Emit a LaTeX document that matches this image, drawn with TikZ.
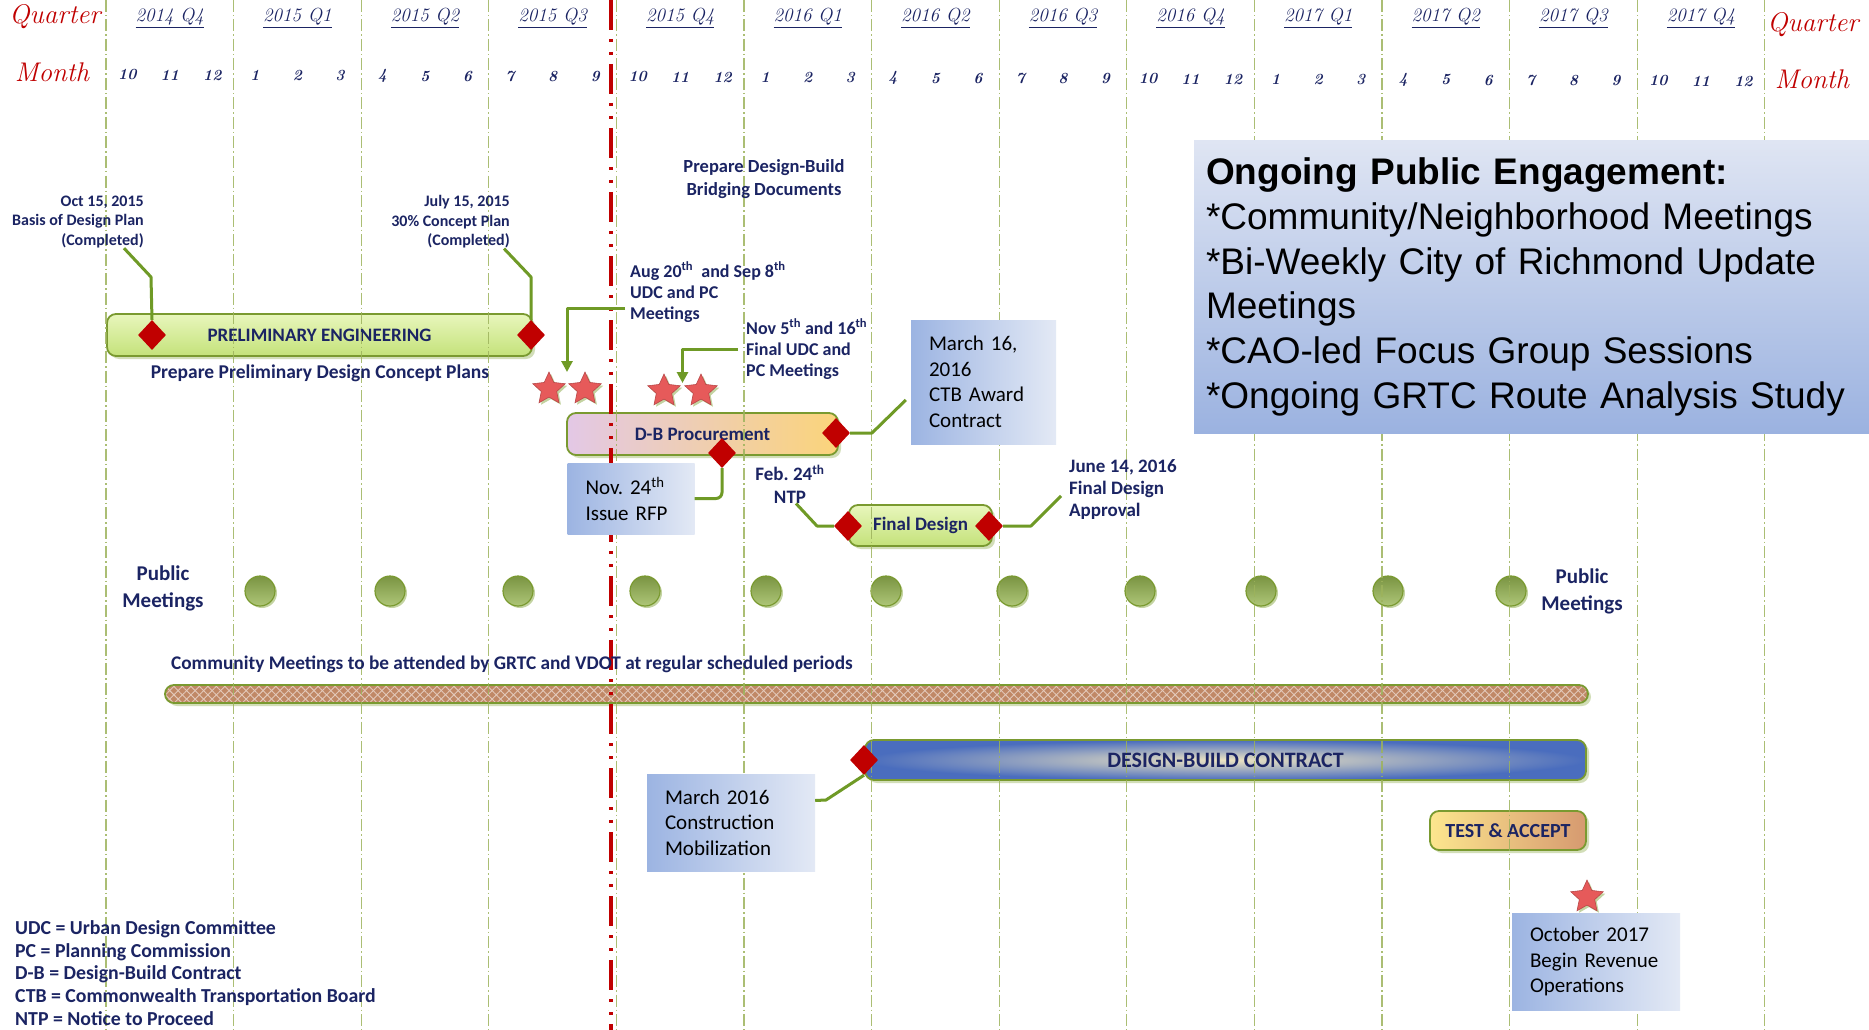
\documentclass[tikz,border=0pt]{standalone}
\usepackage{fontspec}
\newfontfamily\calfont{Carlito}
\newfontfamily\arialfont{Liberation Sans}
\usetikzlibrary{shapes.geometric,arrows.meta,shadows,patterns,patterns.meta,calc}
\definecolor{navy}{HTML}{1B2463}
\definecolor{dred}{HTML}{C00000}
\definecolor{gridgreen}{HTML}{9DB35C}
\definecolor{bargreen}{HTML}{7A9A30}
\definecolor{callgreen}{HTML}{6F9A26}
\definecolor{shadowgreen}{HTML}{B5C98A}
\definecolor{pelight}{HTML}{E8F6BC}
\definecolor{pegreen}{HTML}{C4E27A}
\definecolor{dbpink}{HTML}{E3C8E6}
\definecolor{dbyellow}{HTML}{FBD47A}
\definecolor{dbblue}{HTML}{4A6DBE}
\definecolor{dbinner}{HTML}{EDE4C2}
\definecolor{testy}{HTML}{FCE68E}
\definecolor{testo}{HTML}{D69A70}
\definecolor{boxblue}{HTML}{9CB4E2}
\definecolor{boxlight}{HTML}{E3E9F5}
\definecolor{paneltop}{HTML}{DFE5F3}
\definecolor{panelbot}{HTML}{9BB2E0}
\definecolor{commfill}{HTML}{C08866}
\definecolor{starred}{HTML}{E65A5A}
\definecolor{meetdark}{HTML}{7A9442}
\definecolor{meetlight}{HTML}{AEC678}
\begin{document}
\begin{tikzpicture}[x=1pt,y=-1pt,
  qline/.style={draw=gridgreen,line width=1.3pt,dash pattern=on 12pt off 3pt on 1.5pt off 3pt},
  redline/.style={draw=dred,line width=3.2pt,dash pattern=on 30pt off 9pt on 3pt off 10pt on 3pt off 9pt},
  hlbl/.style={text=dred,font=\itshape\fontsize{27}{30}\selectfont,inner sep=0pt},
  qlbl/.style={text=navy,font=\itshape\fontsize{19}{22}\selectfont,inner sep=0pt},
  mlbl/.style={text=navy,font=\itshape\bfseries\fontsize{15.5}{18}\selectfont,inner sep=0pt},
  lbl/.style 2 args={text=navy,inner sep=0pt,font=\calfont\bfseries\frenchspacing\fontsize{#1}{#2}\selectfont},
  taskbar/.style={rounded corners=9pt,draw=bargreen,line width=1.8pt,text=navy,inner sep=0pt,
    font=\calfont\bfseries\fontsize{19}{23}\selectfont,
    drop shadow={shadow xshift=3pt,shadow yshift=-3pt,fill=shadowgreen,opacity=.6}},
  milestone/.style={diamond,fill=dred,minimum width=28pt,minimum height=30pt,inner sep=0pt},
  starmark/.style={star,star points=5,star point ratio=2.1,minimum size=34pt,inner sep=0pt,
    fill=starred,draw=starred!80!black,line width=.6pt,
    drop shadow={shadow xshift=2pt,shadow yshift=-2pt,fill=shadowgreen,opacity=.8}},
  pmeet/.style={circle,minimum size=30pt,inner sep=0pt,draw=bargreen,line width=1.2pt,
    top color=meetdark,bottom color=meetlight,
    drop shadow={shadow xshift=2pt,shadow yshift=-2pt,fill=shadowgreen,opacity=.8}},
  boxtext/.style={inner xsep=18pt,inner ysep=0pt,align=left,text=black,
    font=\calfont\frenchspacing\fontsize{21}{25.5}\selectfont},
  infobox/.style={boxtext,left color=boxblue,right color=boxlight},
  leader/.style={draw=callgreen,line width=3pt,line join=round}]
\fill[white] (0,0) rectangle (1869,1030);
\useasboundingbox (0,0) rectangle (1869,1030);
% task bars
\node[taskbar,minimum width=425pt,minimum height=42pt,top color=pelight,bottom color=pegreen] (prelim) at (319.5,335) {PRELIMINARY ENGINEERING};
\node[taskbar,minimum width=271pt,minimum height=42pt,left color=dbpink,right color=dbyellow] (dbproc) at (702.5,434) {D-B Procurement};
\node[taskbar,minimum width=143pt,minimum height=41pt,top color=pelight,bottom color=pegreen] (final) at (920.5,525.5) {Final Design};
\node[taskbar,minimum width=721pt,minimum height=40pt,inner color=dbinner,outer color=dbblue,
  font=\calfont\bfseries\fontsize{22}{26}\selectfont] (dbc) at (1225.5,760) {DESIGN-BUILD CONTRACT};
\node[taskbar,minimum width=156pt,minimum height=39pt,left color=testy,right color=testo,
  font=\calfont\bfseries\fontsize{20}{24}\selectfont] (test) at (1508,830.5) {TEST \& ACCEPT};
\node[taskbar,minimum width=1423pt,minimum height=18pt,preaction={fill=commfill},
  preaction={pattern={Lines[angle=45,distance=6pt,line width=.9pt]},pattern color=white!55!commfill},
  pattern={Lines[angle=-45,distance=6pt,line width=.9pt]},pattern color=white!55!commfill] (comm) at (876.5,694) {};
% meetings and stars
\foreach \x [count=\i] in {260,390,518,645,766,886,1012,1140,1261,1388,1511}
  \node[pmeet] (pm\i) at (\x,591) {};
\node[starmark] (s1) at (549,389) {};
\node[starmark] (s2) at (585,389) {};
\node[starmark] (s3) at (664,391) {};
\node[starmark] (s4) at (701,391) {};
\node[starmark] (s5) at (1587,897) {};
% time axis
\foreach \q in {0,...,13}
  \draw[qline,opacity=.85] ({106+127.6*\q},0) -- ({106+127.6*\q},1030);
\draw[redline] (611,0) -- (611,1030);
\node[hlbl] (qtrL) at (55,17) {Quarter};
\node[hlbl] (qtrR) at (1813,25) {Quarter};
\node[hlbl] (monL) at (52,72) {Month};
\node[hlbl] (monR) at (1812,79) {Month};
\foreach \lab [count=\i from 0] in {2014 Q4,2015 Q1,2015 Q2,2015 Q3,2015 Q4,2016 Q1,2016 Q2,2016 Q3,2016 Q4,2017 Q1,2017 Q2,2017 Q3,2017 Q4}
  \node[qlbl] (q\i) at ({169.8+127.6*\i},18) {\underline{\lab}};
\foreach \m [count=\i from 0] in {10,11,12,1,2,3,4,5,6,7,8,9,10,11,12,1,2,3,4,5,6,7,8,9,10,11,12,1,2,3,4,5,6,7,8,9,10,11,12}
  \node[mlbl] (m\i) at ({127.3+42.53*\i},{75+0.16*\i}) {\m};
% milestones
\node[milestone] (d1) at (152,335) {};
\node[milestone] (d2) at (531,335) {};
\node[milestone] (d3) at (836,433) {};
\node[milestone] (d4) at (722,453) {};
\node[milestone] (d5) at (848,526) {};
\node[milestone] (d6) at (989,526) {};
\node[milestone] (d7) at (864,760) {};
% text boxes
\node[infobox,text width=109pt,minimum height=124pt] (award) at (983.5,382) {March 16,\\2016\\CTB Award\\Contract};
\node[infobox,text width=91pt,minimum height=71pt] (rfp) at (631,498.5) {Nov. 24\textsuperscript{th}\\Issue RFP};
\node[infobox,text width=132pt,minimum height=97pt] (mob) at (731,822.5) {March 2016\\Construction\\Mobilization};
\node[infobox,text width=132pt,minimum height=97pt] (rev) at (1596,961.5) {October 2017\\Begin Revenue\\Operations};
\node[boxtext,top color=paneltop,bottom color=panelbot,inner xsep=12pt,text width=651pt,minimum height=292pt,
  font=\arialfont\fontsize{37}{44.8}\selectfont] (engage) at (1531.5,287)
  {\textbf{Ongoing Public Engagement:}\\{*}Community/Neighborhood Meetings\\{*}Bi-Weekly City of Richmond Update\\Meetings\\{*}CAO-led Focus Group Sessions\\{*}Ongoing GRTC Route Analysis Study};
% labels
\node[lbl={16}{19.5},align=right,anchor=east] (basis) at (144,222) {Oct 15, 2015\\Basis of Design Plan\\(Completed)};
\node[lbl={16}{19.5},align=right,anchor=east] (concept) at (510,222) {July 15, 2015\\30\% Concept Plan\\(Completed)};
\node[lbl={18}{21},align=left,anchor=west] (udc1) at (630,292) {Aug 20\textsuperscript{th}\ \ and Sep 8\textsuperscript{th}\\UDC and PC\\Meetings};
\node[lbl={18}{21},align=left,anchor=west] (udc2) at (746,349) {Nov 5\textsuperscript{th} and 16\textsuperscript{th}\\Final UDC and\\PC Meetings};
\node[lbl={19}{23},align=center] (ntp) at (790,484) {Feb. 24\textsuperscript{th}\\NTP};
\node[lbl={19}{22},align=left,anchor=west] (fdapp) at (1069,490) {June 14, 2016\\Final Design\\Approval};
\node[lbl={18.5}{23},align=center] (bridge) at (764,179) {Prepare Design-Build\\Bridging Documents};
\node[lbl={19.5}{23}] (prelimtxt) at (320,373) {Prepare Preliminary Design Concept Plans};
\node[lbl={21}{27},align=center] (pubL) at (163,588) {Public\\Meetings};
\node[lbl={21}{27},align=center] (pubR) at (1582,591) {Public\\Meetings};
\node[lbl={19.3}{22}] (commtxt) at (512,664) {Community Meetings to be attended by GRTC and VDOT at regular scheduled periods};
\node[lbl={19.8}{22.6},align=left,anchor=west] (legend) at (15,973) {UDC = Urban Design Committee\\PC = Planning Commission\\D-B = Design-Build Contract\\CTB = Commonwealth Transportation Board\\NTP = Notice to Proceed};
% leaders
\coordinate (t1) at ($(s1)!.5!(s2)+(0,-17)$);
\coordinate (t2) at ($(s3)!.5!(s4)+(0,-8)$);
\draw[leader] (d1.north) -- (151,277) -- ([xshift=-20pt]basis.south east);
\draw[leader] (d2.north) -- (531,277) -- ([xshift=-6pt]concept.south east);
\draw[leader,-{Triangle[length=11pt,width=11pt]}] ([shift={(-5,16)}]udc1.west) -| (t1);
\draw[leader,-{Triangle[length=11pt,width=11pt]}] ([xshift=-8pt]udc2.west) -| (t2);
\draw[leader] (d3.east) -- (872,433) -- ([shift={(-5,18)}]award.west);
\draw[leader,rounded corners=6pt] (d4.south) |- (rfp.east);
\draw[leader] ([xshift=6pt]ntp.south) -- (817,526) -- (d5.west);
\draw[leader] (d6.east) -- (1031,526) -- ([shift={(-8,6)}]fdapp.west);
\draw[leader] (d7.south) -- (826,800) -- ([yshift=22pt]mob.east);
\end{tikzpicture}
\end{document}
